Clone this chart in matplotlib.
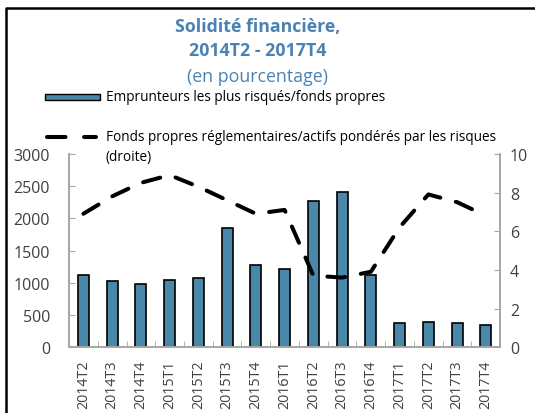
import matplotlib.pyplot as plt
import numpy as np
from matplotlib.lines import Line2D
from matplotlib.patches import Rectangle

plt.rcParams['font.family'] = ['Open Sans', 'DejaVu Sans']

# Data
quarters = ['2014T2', '2014T3', '2014T4', '2015T1', '2015T2', '2015T3', '2015T4',
            '2016T1', '2016T2', '2016T3', '2016T4', '2017T1', '2017T2', '2017T3', '2017T4']
risky_borrowers = [1120, 1020, 980, 1050, 1070, 1850, 1270,
                   1220, 2270, 2410, 1120, 370, 390, 370, 350]
capital_ratio = [6.9, 7.8, 8.5, 8.9, 8.3, 7.6, 6.9,
                 7.1, 3.7, 3.6, 3.9, 6.2, 7.9, 7.5, 6.8]

bar_color = '#4a88a9'
title_color = '#4a82b4'
axis_gray = '#a6a6a6'
text_gray = '#404040'

fig = plt.figure(figsize=(5.35, 4.14), dpi=100)
ax = fig.add_axes([0.129, 0.159, 0.806, 0.467])
ax2 = ax.twinx()

x = np.arange(len(quarters))
ax.bar(x, risky_borrowers, width=0.38, color=bar_color, edgecolor='black', linewidth=1.2, zorder=2)
ax2.plot(x, capital_ratio, color='black', lw=2.9, dashes=(4.4, 4),
         dash_capstyle='round', zorder=3)

ax.set_xlim(-0.5, len(quarters) - 0.5)
ax.set_ylim(0, 3000)
ax2.set_ylim(0, 10)
ax.set_yticks(range(0, 3001, 500))
ax2.set_yticks(range(0, 11, 2))
ax.set_xticks(x)
ax.set_xticklabels(quarters, rotation=90, fontsize=10.3, color=text_gray)
ax.set_xticks(np.arange(0.5, len(quarters) - 1, 1), minor=True)
ax.tick_params(axis='x', which='major', length=0, pad=9)
ax.tick_params(axis='x', which='minor', direction='in', length=4, color=axis_gray)
ax.tick_params(axis='y', direction='in', length=4, color=axis_gray,
               labelsize=11.5, labelcolor=text_gray, pad=13.7)
ax2.tick_params(axis='y', direction='in', length=4, color=axis_gray,
                labelsize=11.5, labelcolor=text_gray, pad=7)

for a in (ax, ax2):
    a.spines['top'].set_visible(False)
    for s in ('left', 'right', 'bottom'):
        a.spines[s].set_color(axis_gray)
        a.spines[s].set_linewidth(1.2)
ax.set_zorder(ax2.get_zorder() - 1)
ax2.patch.set_visible(False)

# Titles
fig.text(0.482, 1 - 27 / 414, 'Solidité financière,', ha='center', va='center',
         fontsize=12.8, fontweight='bold', color=title_color)
fig.text(0.482, 1 - 51 / 414, '2014T2 - 2017T4', ha='center', va='center',
         fontsize=12.8, fontweight='bold', color=title_color)
fig.text(0.482, 1 - 77 / 414, '(en pourcentage)', ha='center', va='center',
         fontsize=12.8, color=title_color)

# Legend drawn by hand
fig.patches.append(Rectangle((45 / 535, 1 - 101 / 414), 55 / 535, 6 / 414,
                             transform=fig.transFigure, facecolor=bar_color,
                             edgecolor='black', linewidth=1.0))
fig.text(106 / 535, 1 - 98 / 414, 'Emprunteurs les plus risqués/fonds propres',
         ha='left', va='center', fontsize=9.8, color='black')
fig.lines.append(Line2D([47 / 535, 96 / 535], [1 - 138 / 414, 1 - 138 / 414],
                        transform=fig.transFigure, color='black', lw=2.9,
                        dashes=(4.6, 4.6), dash_capstyle='round'))
fig.text(106 / 535, 1 - 138 / 414,
         'Fonds propres réglementaires/actifs pondérés par les risques',
         ha='left', va='center', fontsize=9.8, color='black')
fig.text(106 / 535, 1 - 157 / 414, '(droite)', ha='left', va='center',
         fontsize=9.8, color='black')

# Outer frame (partially clipped like the original)
fig.lines.append(Line2D([6 / 535, 6 / 535, 1.0], [0.0, 1 - 9 / 414, 1 - 9 / 414],
                        transform=fig.transFigure, color='black', lw=1.8))

fig.savefig('out.png', dpi=100)
